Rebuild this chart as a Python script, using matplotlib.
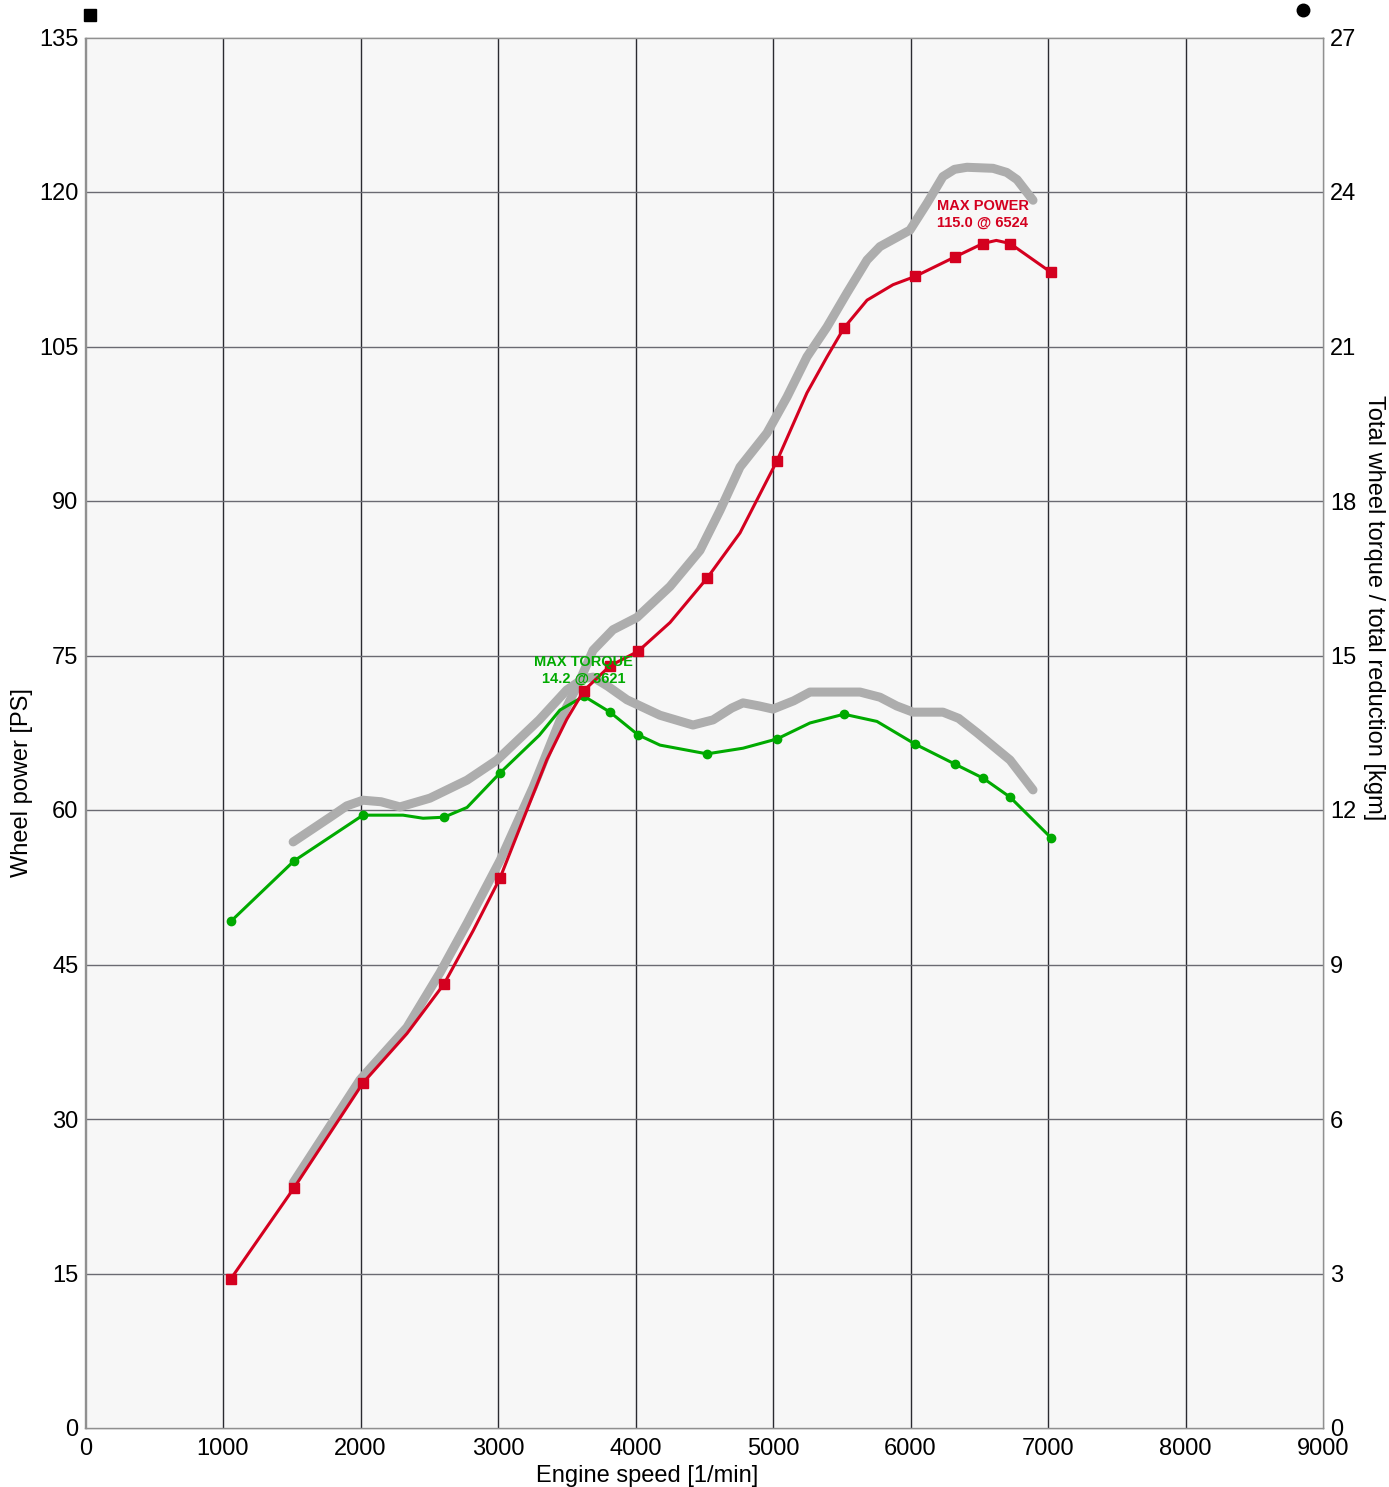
import matplotlib
matplotlib.use("Agg")
import matplotlib.pyplot as plt

plt.rcParams['font.family'] = ['Liberation Sans', 'DejaVu Sans']

# Measured run: marker points, power (PS) and torque (kgm)
rpm = [1058, 1516, 2018, 2607, 3015, 3625, 3815, 4018, 4520, 5029, 5516, 6033, 6324, 6527, 6724, 7022]
power = [14.5, 23.3, 33.5, 43.1, 53.4, 71.6, 74.0, 75.4, 82.5, 93.9, 106.8, 111.8, 113.7, 115.0, 115.0, 112.2]
torque = [9.84, 11.01, 11.90, 11.86, 12.72, 14.21, 13.90, 13.46, 13.09, 13.38, 13.86, 13.28, 12.89, 12.62, 12.25, 11.46]

# Measured run: traced curve between markers
power_line_rpm = [1058, 1516, 2018, 2338, 2607, 2820, 3015, 3160, 3356, 3500, 3625, 3815, 4018, 4251, 4520,
                  4760, 5029, 5247, 5393, 5516, 5684, 5873, 6033, 6324, 6527, 6624, 6724, 7022]
power_line = [14.5, 23.3, 33.5, 38.3, 43.1, 48.3, 53.4, 58.3, 64.9, 68.8, 71.6, 74.0, 75.4, 78.2, 82.5,
              86.9, 93.9, 100.5, 104.0, 106.8, 109.5, 111.0, 111.8, 113.7, 115.0, 115.3, 115.0, 112.2]
torque_line_rpm = [1058, 1516, 2018, 2309, 2455, 2607, 2775, 3015, 3300, 3450, 3625, 3815, 4018, 4178, 4520,
                   4782, 5029, 5269, 5516, 5756, 6033, 6324, 6527, 6724, 7022]
torque_line = [9.84, 11.01, 11.90, 11.90, 11.84, 11.86, 12.05, 12.72, 13.45, 13.94, 14.21, 13.90, 13.46, 13.26, 13.09,
               13.20, 13.38, 13.69, 13.86, 13.72, 13.28, 12.89, 12.62, 12.25, 11.46]

# Comparison run (gray)
ref_p_rpm = [1510, 1996, 2338, 2578, 2775, 3015, 3255, 3451, 3596, 3691, 3836, 4011, 4251, 4469, 4615,
             4760, 4956, 5102, 5247, 5393, 5538, 5684, 5778, 5996, 6120, 6236, 6320, 6411, 6600, 6700, 6775, 6891]
ref_power = [23.8, 33.8, 38.9, 44.2, 49.0, 55.1, 62.2, 68.7, 72.6, 75.5, 77.5, 78.7, 81.7, 85.2, 89.1,
             93.3, 96.6, 100.1, 104.0, 106.9, 110.2, 113.4, 114.7, 116.3, 118.9, 121.5, 122.2, 122.4, 122.3, 121.9, 121.2, 119.2]
ref_t_rpm = [1510, 1779, 1900, 2018, 2150, 2287, 2505, 2775, 2993, 3300, 3500, 3620, 3691, 3800, 3938, 4178, 4418, 4564, 4700, 4782,
             4900, 5000, 5150, 5269, 5633, 5778, 5900, 6018, 6236, 6350, 6484, 6724, 6891]
ref_torque = [11.38, 11.86, 12.08, 12.19, 12.16, 12.06, 12.23, 12.58, 12.97, 13.75, 14.33, 14.55, 14.58, 14.40, 14.14, 13.84, 13.65, 13.75, 13.98, 14.08,
              14.02, 13.96, 14.12, 14.29, 14.29, 14.19, 14.02, 13.90, 13.90, 13.78, 13.50, 12.97, 12.39]

x_ticks = [0, 1000, 2000, 3000, 4000, 5000, 6000, 7000, 8000, 9000]
left_ticks = [0, 15, 30, 45, 60, 75, 90, 105, 120, 135]
right_ticks = [0, 3, 6, 9, 12, 15, 18, 21, 24, 27]

RED = '#d4001f'
GREEN = '#00aa00'
GRAY = '#adadad'
KGM_TO_LEFT = 135 / 27

W, H = 1389, 1487
fig = plt.figure(figsize=(W / 100, H / 100), dpi=100)
ax = fig.add_axes([85.5/W, 1 - 1428/H, (1323-85.5)/W, (1428-37.5)/H])
ax2 = ax.twinx()

ax.set_facecolor('#f7f7f7')
ax.set_xlim(0, 9000)
ax.set_ylim(0, 135)
ax2.set_ylim(0, 27)
ax.set_xticks(x_ticks)
ax.set_yticks(left_ticks)
ax2.set_yticks(right_ticks)

# grid
for xv in x_ticks[1:-1]:
    ax.axvline(xv, color='#2a2a30', lw=1.0, zorder=1)
for yv in left_ticks[1:-1]:
    ax.axhline(yv, color='#6a6a72', lw=1.0, zorder=1)

for a in (ax, ax2):
    for s in a.spines.values():
        s.set_color('#909090')
        s.set_linewidth(1.0)
    a.tick_params(length=0, labelsize=17, pad=5)
ax.tick_params(axis='x', pad=7)

ax.set_zorder(ax2.get_zorder() + 1)
ax.patch.set_visible(True)
ax2.patch.set_visible(False)

# gray comparison curves
ax.plot(ref_p_rpm, ref_power, color=GRAY, lw=6.5, solid_capstyle='round', solid_joinstyle='round', zorder=2)
ax.plot(ref_t_rpm, [t * KGM_TO_LEFT for t in ref_torque], color=GRAY, lw=6.5, solid_capstyle='round',
        solid_joinstyle='round', zorder=2)

# measured curves
ax.plot(torque_line_rpm, [t * KGM_TO_LEFT for t in torque_line], color=GREEN, lw=2.2, zorder=3,
        solid_joinstyle='round')
ax.plot(rpm, [t * KGM_TO_LEFT for t in torque], color=GREEN, ls='none', marker='o', ms=6, zorder=3)
ax.plot(power_line_rpm, power_line, color=RED, lw=2.2, zorder=4, solid_joinstyle='round')
ax.plot(rpm, power, color=RED, ls='none', marker='s', ms=6.5, zorder=4)

ax.text(6524, 117.8, 'MAX POWER\n115.0 @ 6524', color=RED, fontsize=10.5, fontweight='bold',
        ha='center', va='center', linespacing=1.25, zorder=5)
ax.text(3621, 73.6, 'MAX TORQUE\n14.2 @ 3621', color=GREEN, fontsize=10.5, fontweight='bold',
        ha='center', va='center', linespacing=1.25, zorder=5)

# axis titles placed as in the reference
fig.text(647 / W, 1 - 1476 / H, 'Engine speed [1/min]', fontsize=17, ha='center', va='center')
fig.text(22 / W, 1 - 783 / H, 'Wheel power [PS]', fontsize=17, ha='center', va='center', rotation=90)
fig.text(1374 / W, 1 - 608 / H, 'Total wheel torque / total reduction [kgm]', fontsize=17,
         ha='center', va='center', rotation=270)

# legend-like symbols above the plot
ax.plot([0.004], [1.016], transform=ax.transAxes, marker='s', color='black', ms=8, clip_on=False, ls='none')
ax.plot([0.984], [1.02], transform=ax.transAxes, marker='o', color='black', ms=9, clip_on=False, ls='none')

fig.savefig('out.png', dpi=100, facecolor='white')
